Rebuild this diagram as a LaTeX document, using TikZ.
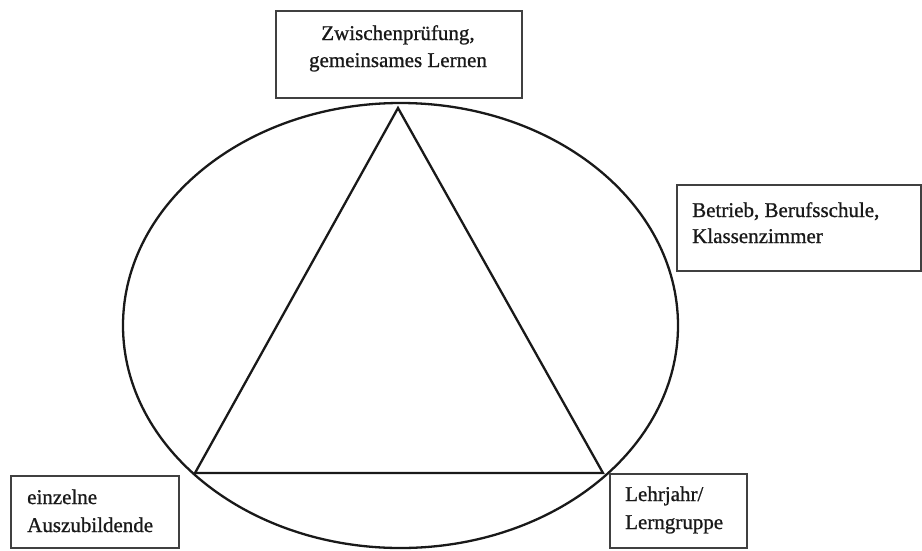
\documentclass[tikz,border=0pt]{standalone}
\usepackage{fontspec}
\setmainfont{Liberation Serif}
\newfontfamily\lblfont{Liberation Serif}[FakeBold=0.9]
\usetikzlibrary{shapes.geometric}
\begin{document}
\begin{tikzpicture}[x=1pt,y=-1pt,
  boxstyle/.style={draw=black!75, line width=2.2pt, inner sep=0pt, anchor=north west},
  lbl/.style={inner sep=0pt, font=\lblfont\fontsize{21}{27}\selectfont, text=black!90},
  shapeline/.style={draw=black!90, line width=2.3pt, line join=miter}]
\useasboundingbox (0,0) rectangle (922,550);
% ellipse and triangle
\node[shapeline, ellipse, minimum width=555pt, minimum height=445pt, inner sep=0pt] (ell) at (400.5,325.5) {};
\coordinate (apex) at (398,108);
\coordinate (bl) at (195,473);
\coordinate (br) at (603,473);
\draw[shapeline] (apex) -- (bl) -- (br) -- cycle;
% boxes
\node[boxstyle, minimum width=246pt, minimum height=87pt] (topbox) at (275,10) {};
\node[boxstyle, minimum width=244pt, minimum height=86pt] (rightbox) at (676,184) {};
\node[boxstyle, minimum width=168pt, minimum height=72pt] (blbox) at (10,475) {};
\node[boxstyle, minimum width=137pt, minimum height=74pt] (brbox) at (609,473) {};
% texts
\node[lbl, anchor=base] (t1a) at (398,40) {Zwischenprüfung,};
\node[lbl, anchor=base] (t1b) at (398,67) {gemeinsames Lernen};
\node[lbl, anchor=base west] (t2a) at (692,217) {Betrieb, Berufsschule,};
\node[lbl, anchor=base west] (t2b) at (692,243) {Klassenzimmer};
\node[lbl, anchor=base west] (t3a) at (27,504) {einzelne};
\node[lbl, anchor=base west] (t3b) at (27,532) {Auszubildende};
\node[lbl, anchor=base west] (t4a) at (625,501) {Lehrjahr/};
\node[lbl, anchor=base west] (t4b) at (625,529) {Lerngruppe};
\end{tikzpicture}
\end{document}
